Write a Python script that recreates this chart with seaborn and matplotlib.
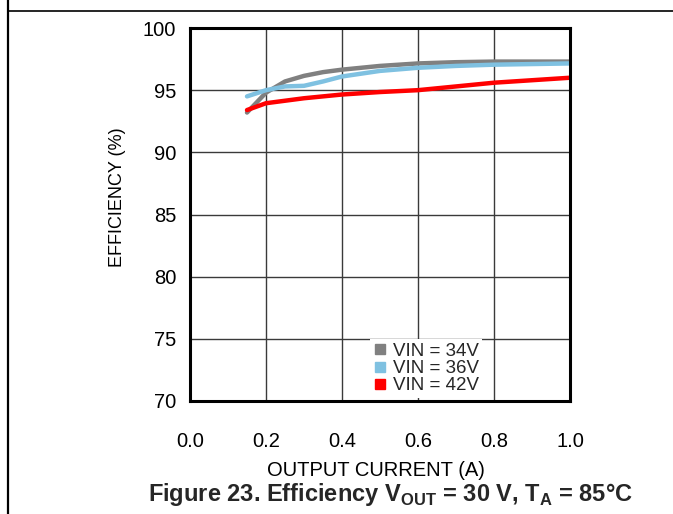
import numpy as np
import pandas as pd
import matplotlib
matplotlib.use('Agg')
import matplotlib.pyplot as plt
from matplotlib.lines import Line2D
import seaborn as sns

# values
current = [0.15, 0.2, 0.25, 0.3, 0.35, 0.4, 0.5, 0.6, 0.7, 0.8, 0.9, 1.0]
eff_34v = [93.2, 94.8, 95.7, 96.15, 96.45, 96.65, 96.95, 97.15, 97.25, 97.3, 97.3, 97.3]
eff_36v = [94.5, 95.0, 95.3, 95.35, 95.7, 96.1, 96.55, 96.8, 96.95, 97.05, 97.1, 97.15]
eff_42v = [93.4, 93.95, 94.15, 94.35, 94.5, 94.65, 94.85, 95.0, 95.3, 95.6, 95.8, 96.0]

series_labels = ['VIN = 34V', 'VIN = 36V', 'VIN = 42V']
series_colors = ['#808080', '#7FC1E1', '#FF0000']

x_ticks = [0.0, 0.2, 0.4, 0.6, 0.8, 1.0]
y_ticks = [70, 75, 80, 85, 90, 95, 100]

df = pd.concat([
    pd.DataFrame({'current': current, 'eff': vals, 'vin': lab})
    for vals, lab in zip([eff_34v, eff_36v, eff_42v], series_labels)
])

sns.set_theme(style='white')
plt.rcParams['font.family'] = ['Liberation Sans', 'DejaVu Sans']
plt.rcParams['mathtext.fontset'] = 'custom'
plt.rcParams['mathtext.rm'] = 'Liberation Sans'
plt.rcParams['mathtext.bf'] = 'Liberation Sans:bold'

fig = plt.figure(figsize=(6.73, 5.14), dpi=100)
ax = fig.add_axes([190 / 673, 1 - 401 / 514, 380 / 673, 373 / 514])

sns.lineplot(data=df, x='current', y='eff', hue='vin', palette=series_colors,
             hue_order=series_labels, linewidth=3.2, legend=False, ax=ax, sort=False)

ax.set_xlim(0, 1.0)
ax.set_ylim(70, 100)
ax.set_xticks(x_ticks)
ax.set_yticks(y_ticks)
ax.set_xticklabels([f'{v:.1f}' for v in x_ticks])
ax.set_yticklabels([str(v) for v in y_ticks])
ax.grid(True, color='#3a3a3a', linewidth=1.0)
ax.set_axisbelow(True)
for sp in ax.spines.values():
    sp.set_color('black')
    sp.set_linewidth(2.2)
ax.tick_params(axis='x', length=0, pad=22, labelsize=14.5, colors='black')
ax.tick_params(axis='y', length=0, pad=10, labelsize=14.5, colors='black')

ax.set_xlabel('OUTPUT CURRENT (A)', fontsize=14.5, color='black')
ax.xaxis.set_label_coords(0.49, -0.162)
ax.set_ylabel('EFFICIENCY (%)', fontsize=13, color='black')
ax.yaxis.set_label_coords(-0.19, 0.547)
ax.yaxis.label.set_verticalalignment('center')

handles = [Line2D([], [], marker='s', linestyle='none', markersize=7,
                  color=c) for c in series_colors]
leg = ax.legend(handles, series_labels, loc='lower left',
                bbox_to_anchor=(0.474, 0.008), fontsize=13.5, frameon=True,
                framealpha=1, facecolor='white', edgecolor='none',
                handlelength=0.7, handletextpad=0.3, labelspacing=0.0,
                borderpad=0.2, borderaxespad=0, fancybox=False)

fig.text(390 / 673, 1 - 494 / 514,
         r'Figure 23. Efficiency V$_{\mathbf{OUT}}$ = 30 V, T$_{\mathbf{A}}$ = 85°C',
         ha='center', va='center', fontsize=17, fontweight='bold')

# page frame lines from the datasheet
fig.add_artist(Line2D([8 / 673, 8 / 673], [0, 1], transform=fig.transFigure,
                      color='black', linewidth=1.6))
fig.add_artist(Line2D([8 / 673, 1], [1 - 11 / 514, 1 - 11 / 514],
                      transform=fig.transFigure, color='black', linewidth=1.2))

fig.savefig('out.png', dpi=100)
